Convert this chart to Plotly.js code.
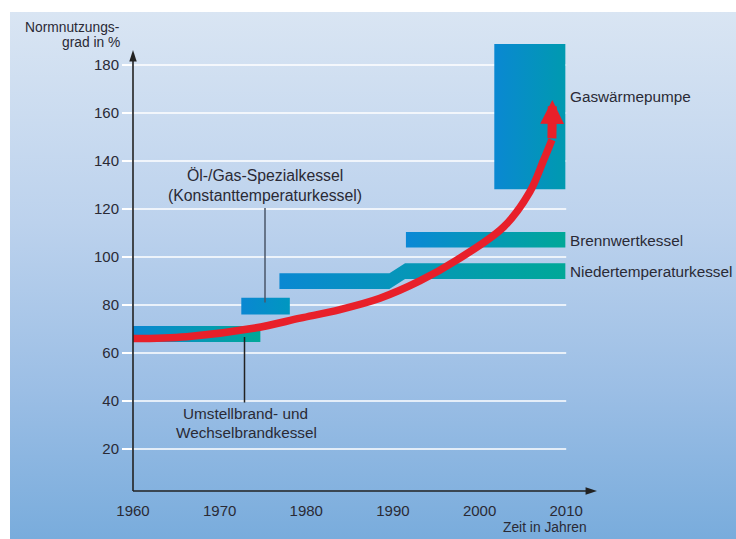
<!DOCTYPE html>
<html><head><meta charset="utf-8">
<script src="https://cdn.plot.ly/plotly-3.0.1.min.js"></script>
<style>
html,body{margin:0;padding:0;background:#fff;}
#bg{position:absolute;left:10px;top:12px;width:726px;height:527px;
 background:linear-gradient(to bottom,#d9e5f3 0%,#bcd2ed 40%,#9bbee5 72%,#79acdc 100%);}
#chart{position:absolute;left:0;top:0;width:736px;height:539px;}
</style></head><body>
<div id="bg"></div><div id="chart"></div>
<script>
// ---- data ----
const years  = [1960, 1970, 1980, 1990, 2000, 2010];
const yTicks = [20, 40, 60, 80, 100, 120, 140, 160, 180];

const barNames = ['Umstellbrand- und Wechselbrandkessel', 'Öl-/Gas-Spezialkessel', 'Niedertemperaturkessel', 'Brennwertkessel', 'Gaswärmepumpe'];
const barStart = [1960.0, 1972.5, 1976.9, 1991.5, 2001.7];
const barEnd   = [1974.7, 1978.1, 2009.9, 2009.9, 2009.9];
const barLow   = [64.6, 76.0, 86.7, 104.0, 128.2];
const barHigh  = [71.2, 83.0, 93.2, 110.4, 188.7];
// Niedertemperaturkessel steps up to a higher band around 1990
const ntStepFrom = 1989.6, ntStepTo = 1991.4;
const ntLow2 = 90.8, ntHigh2 = 97.4;

// red trend curve (last point = arrow tip)
const curveYear  = [1960.0, 1966.2, 1973.9, 1979.3, 1983.9, 1988.5, 1993.1, 1997.4, 2002.8, 2005.8, 2007.4, 2008.35, 2008.4];
const curveValue = [66.0, 66.8, 70.3, 74.5, 78.1, 82.8, 90.0, 98.8, 112.6, 127.1, 140.4, 148.8, 165.4];

// ---- styles ----
const barColL = ['#0a87d2', '#0a87d2', '#0a88d2', '#0a88d6', '#0a88d2'];
const barColR = ['#00a898', '#0097c0', '#00a898', '#00a898', '#009ab0'];
const FONT = 'Liberation Sans, Arial, sans-serif';
const TXT = '#2a2a35';
const RED = '#e8202a';

// plot geometry (pixels)
const L = 133, T = 40, R = 600, B = 491;
const xRange = [1960, 2013.9], yRange = [2.5, 190.4];
const W = R - L, H = B - T;
const xPx = px => xRange[0] + (px - L) / W * (xRange[1] - xRange[0]);
const yPx = py => yRange[0] + (B - py) / H * (yRange[1] - yRange[0]);
const pX = px => (px - L) / W;
const pY = py => (B - py) / H;
const toPX = v => (v - yRange[0]) / (yRange[1] - yRange[0]);

const traces = [];
barNames.forEach((name, i) => {
  let xs, ys;
  if (i === 2) {
    xs = [barStart[i], ntStepFrom, ntStepTo, barEnd[i], barEnd[i], ntStepTo, ntStepFrom, barStart[i], barStart[i]];
    ys = [barHigh[i], barHigh[i], ntHigh2, ntHigh2, ntLow2, ntLow2, barLow[i], barLow[i], barHigh[i]];
  } else {
    xs = [barStart[i], barEnd[i], barEnd[i], barStart[i], barStart[i]];
    ys = [barLow[i], barLow[i], barHigh[i], barHigh[i], barLow[i]];
  }
  traces.push({
    type: 'scatter', mode: 'lines', x: xs, y: ys, name: name,
    fill: 'toself',
    fillgradient: {type: 'horizontal', colorscale: [[0, barColL[i]], [1, barColR[i]]]},
    line: {width: 0, color: 'rgba(0,0,0,0)'},
    hoverinfo: 'skip', showlegend: false
  });
});

const n = curveYear.length;
traces.push({
  type: 'scatter', mode: 'lines',
  x: curveYear.slice(0, n - 1), y: curveValue.slice(0, n - 1),
  line: {color: RED, width: 7.5, shape: 'spline', smoothing: 1},
  hoverinfo: 'skip', showlegend: false
});

// axis arrow tips
const xTip = xPx(597), yTip = yPx(50);
traces.push({
  type: 'scatter', mode: 'markers', x: [xTip, years[0]], y: [yRange[0], yTip],
  marker: {symbol: 'arrow', size: 12, color: '#222', angle: [90, 0], line: {width: 0}},
  cliponaxis: false, hoverinfo: 'skip', showlegend: false
});

const shapes = [];
yTicks.forEach(v => shapes.push({
  type: 'line', xref: 'x', yref: 'y', x0: years[0], x1: years[years.length - 1], y0: v, y1: v,
  line: {color: '#ffffff', width: 1.5}, layer: 'below'
}));
// axis lines
shapes.push({type: 'line', xref: 'paper', yref: 'paper', x0: 0, x1: 0, y0: 0, y1: toPX(yTip) - 0.01, line: {color: '#222', width: 1.6}});
shapes.push({type: 'line', xref: 'paper', yref: 'paper', x0: 0, x1: pX(590), y0: 0, y1: 0, line: {color: '#222', width: 1.6}});
// leader lines
shapes.push({type: 'line', xref: 'x', yref: 'y', x0: xPx(265), x1: xPx(265), y0: yPx(208), y1: yPx(302.5), line: {color: '#4a5668', width: 1.5}});
shapes.push({type: 'line', xref: 'x', yref: 'y', x0: xPx(244.5), x1: xPx(244.5), y0: yPx(337), y1: yPx(402.5), line: {color: '#222', width: 1.5}});

function lab(text, px, py, anchor, size) {
  return {text: text, xref: 'paper', yref: 'paper', x: pX(px), y: pY(py), xanchor: anchor, yanchor: 'middle',
    showarrow: false, font: {family: FONT, size: size || 15.3, color: TXT}};
}
const annotations = [
  lab('Öl-/Gas-Spezialkessel', 265, 176, 'center', 15.8),
  lab('(Konstanttemperaturkessel)', 265, 195.5, 'center', 15.8),
  lab('Umstellbrand- und', 245, 413.5, 'center'),
  lab('Wechselbrandkessel', 246, 432, 'center'),
  lab(barNames[3], 568, 240, 'left'),
  lab(barNames[2], 568, 271.5, 'left'),
  lab(barNames[4], 568, 97, 'left'),
  lab('Normnutzungs-', 121, 27, 'right', 13.8),
  lab('grad in %', 122, 43, 'right', 13.8),
  lab('Zeit in Jahren', 544.5, 527, 'center', 13.8),
  {x: curveYear[n - 1], y: curveValue[n - 1], ax: curveYear[n - 2], ay: curveValue[n - 2],
   xref: 'x', yref: 'y', axref: 'x', ayref: 'y', text: '', showarrow: true,
   arrowhead: 2, arrowwidth: 9, arrowsize: 0.53, arrowcolor: RED}
];

const layout = {
  width: 736, height: 539,
  margin: {l: L, r: 736 - R, t: T, b: 539 - B, pad: 0},
  paper_bgcolor: 'rgba(0,0,0,0)', plot_bgcolor: 'rgba(0,0,0,0)',
  showlegend: false,
  xaxis: {range: xRange, tickvals: years, ticktext: years.map(String), showgrid: false, zeroline: false, showline: false,
    ticks: 'outside', ticklen: 6, tickcolor: 'rgba(0,0,0,0)', tickfont: {family: FONT, size: 15, color: TXT}, fixedrange: true},
  yaxis: {range: yRange, tickvals: yTicks, ticktext: yTicks.map(String), showgrid: false, zeroline: false, showline: false,
    ticks: 'outside', ticklen: 10, tickwidth: 1.5, tickcolor: '#ffffff', tickfont: {family: FONT, size: 15, color: TXT}, fixedrange: true},
  shapes: shapes, annotations: annotations
};
Plotly.newPlot('chart', traces, layout, {displayModeBar: false, staticPlot: true});
</script></body></html>
